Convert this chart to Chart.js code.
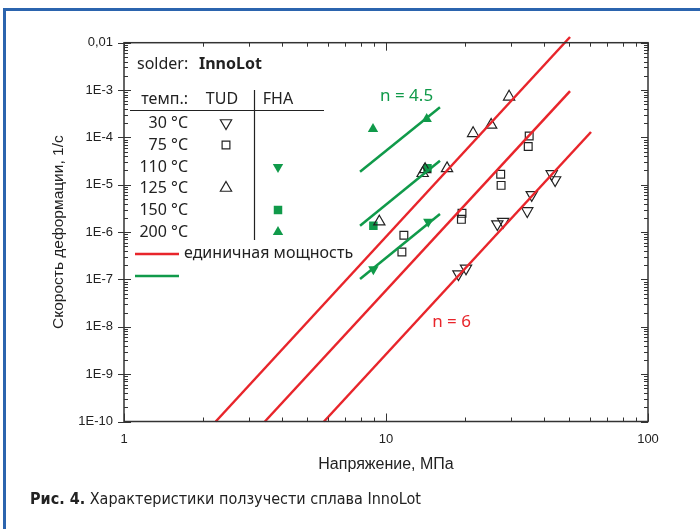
<!DOCTYPE html>
<html lang="ru">
<head>
<meta charset="UTF-8">
<title>Характеристики ползучести сплава InnoLot</title>
<script src="https://cdn.jsdelivr.net/npm/chart.js@4"></script>
<style>
  html, body { margin: 0; padding: 0; background: #fff; }
  #wrap { position: relative; width: 700px; height: 529px; overflow: hidden; }
  #frame { position: absolute; left: 3px; top: 8px; right: -10px; bottom: -10px;
           border-top: 3px solid #2b64ae; border-left: 3px solid #2b64ae; }
  canvas { position: absolute; left: 0; top: 0; }
  #caption { position: absolute; left: 30px; top: 489px; color: #222;
             font: 16px "Liberation Sans Narrow", "DejaVu Sans Condensed", sans-serif; }
  #caption b { font-weight: bold; }
</style>
</head>
<body>
<div id="wrap">
  <div id="frame"></div>
  <canvas id="chart" width="700" height="529"></canvas>
  <div id="caption"><b>Рис. 4.</b> Характеристики ползучести сплава InnoLot</div>
</div>
<script>
// axis ticks
const xTicks = [1, 10, 100];
const xTickLabels = ['1', '10', '100'];
const yTicks = [1e-10, 1e-9, 1e-8, 1e-7, 1e-6, 1e-5, 1e-4, 1e-3, 1e-2];
const yTickLabels = ['1E-10', '1E-9', '1E-8', '1E-7', '1E-6', '1E-5', '1E-4', '1E-3', '0,01'];

// TUD measurements (open markers)
const tud30X  = [42.9, 44.2, 36.0, 34.6, 28.0, 26.6, 20.2, 18.9];
const tud30Y  = [1.69e-5, 1.26e-5, 6.1e-6, 2.8e-6, 1.66e-6, 1.48e-6, 1.72e-7, 1.30e-7];
const tud75X  = [35.2, 34.9, 27.4, 27.5, 19.5, 19.4, 11.7, 11.5];
const tud75Y  = [1.07e-4, 6.4e-5, 1.66e-5, 9.7e-6, 2.49e-6, 1.86e-6, 8.6e-7, 3.8e-7];
const tud125X = [29.5, 25.2, 21.5, 17.1, 14.1, 13.8, 9.43];
const tud125Y = [7.2e-4, 1.83e-4, 1.22e-4, 2.22e-5, 2.12e-5, 1.75e-5, 1.66e-6];

// FHA measurements (filled green markers)
const fha110X = [8.95, 14.5];
const fha110Y = [1.64e-7, 1.66e-6];
const fha150X = [8.95, 14.4];
const fha150Y = [1.36e-6, 2.22e-5];
const fha200X = [8.92, 14.3];
const fha200Y = [1.50e-4, 2.45e-4];

// fit lines, n = 6 (red) and n = 4.5 (green)
const fit6X  = [[2.24, 50.4], [3.45, 50.4], [5.80, 60.6]];
const fit6Y  = [[1e-10, 1.32e-2], [1e-10, 9.5e-4], [1e-10, 1.3e-4]];
const fit45X = [[7.96, 16.07], [7.96, 16.07], [7.96, 16.07]];
const fit45Y = [[1.89e-5, 4.32e-4], [1.36e-6, 3.22e-5], [1.02e-7, 2.41e-6]];

// legend table
const legendTemps = ['30 °C', '75 °C', '110 °C', '125 °C', '150 °C', '200 °C'];

const RED = '#e8252b';
const GREEN = '#109a4a';
const INK = '#222';
const AXIS = '#333';

function pts(xs, ys) {
  return xs.map((x, i) => ({ x: x, y: ys[i] }));
}

const datasets = [];
fit6X.forEach((xs, i) => datasets.push({
  type: 'line', data: pts(xs, fit6Y[i]), borderColor: RED, borderWidth: 2.5,
  pointRadius: 0, fill: false, clip: false
}));
fit45X.forEach((xs, i) => datasets.push({
  type: 'line', data: pts(xs, fit45Y[i]), borderColor: GREEN, borderWidth: 2.5,
  pointRadius: 0, fill: false
}));
datasets.push(
  { data: pts(tud30X, tud30Y), pointStyle: 'triangle', rotation: 180, pointRadius: 6.5,
    borderColor: INK, backgroundColor: 'rgba(0,0,0,0)', borderWidth: 1.2 },
  { data: pts(tud75X, tud75Y), pointStyle: 'rect', pointRadius: 5.5,
    borderColor: INK, backgroundColor: 'rgba(0,0,0,0)', borderWidth: 1.2 },
  { data: pts(tud125X, tud125Y), pointStyle: 'triangle', pointRadius: 6.5,
    borderColor: INK, backgroundColor: 'rgba(0,0,0,0)', borderWidth: 1.2 },
  { data: pts(fha110X, fha110Y), pointStyle: 'triangle', rotation: 180, pointRadius: 6,
    borderColor: GREEN, backgroundColor: GREEN, borderWidth: 0 },
  { data: pts(fha150X, fha150Y), pointStyle: 'rect', pointRadius: 6,
    borderColor: GREEN, backgroundColor: GREEN, borderWidth: 0 },
  { data: pts(fha200X, fha200Y), pointStyle: 'triangle', pointRadius: 6,
    borderColor: GREEN, backgroundColor: GREEN, borderWidth: 0 }
);

const TXT = '"Noto Sans", "Open Sans", sans-serif';

// frame, inner ticks, legend table and labels
const decor = {
  id: 'decor',
  afterDatasetsDraw(chart) {
    const { ctx, chartArea: a, scales: { x, y } } = chart;
    const dp = Chart.helpers.drawPoint;
    ctx.save();
    ctx.strokeStyle = AXIS;
    ctx.lineWidth = 1.5;
    ctx.strokeRect(a.left, a.top, a.right - a.left, a.bottom - a.top);

    ctx.lineWidth = 1;
    ctx.beginPath();
    for (let d = 1; d <= 100; d *= 10) {
      for (let m = 1; m <= 9; m++) {
        const v = m * d;
        if (v > 100) break;
        const px = Math.round(x.getPixelForValue(v)) + 0.5;
        const len = m === 1 ? 8 : 4;
        ctx.moveTo(px, a.bottom); ctx.lineTo(px, a.bottom - len);
        ctx.moveTo(px, a.top); ctx.lineTo(px, a.top + len);
      }
    }
    for (let e = -10; e <= -2; e++) {
      for (let m = 1; m <= 9; m++) {
        const v = m * Math.pow(10, e);
        if (v > 0.0100001) break;
        const py = Math.round(y.getPixelForValue(v)) + 0.5;
        const len = m === 1 ? 7 : 4;
        ctx.moveTo(a.left - (m === 1 ? 6 : 0), py); ctx.lineTo(a.left + len, py);
        ctx.moveTo(a.right, py); ctx.lineTo(a.right - len, py);
      }
    }
    ctx.stroke();

    // legend box inside the plot
    ctx.fillStyle = INK;
    ctx.textBaseline = 'middle';
    ctx.textAlign = 'left';
    ctx.font = '16px ' + TXT;
    ctx.fillText('solder:', 137, 64);
    ctx.font = 'bold 16px ' + TXT;
    ctx.fillText('InnoLot', 199, 64);
    ctx.font = '16px ' + TXT;
    ctx.textAlign = 'right';
    ctx.fillText('темп.:', 188, 99);
    ctx.textAlign = 'center';
    ctx.fillText('TUD', 222, 99);
    ctx.fillText('FHA', 278, 99);

    ctx.strokeStyle = INK;
    ctx.lineWidth = 1.2;
    ctx.beginPath();
    ctx.moveTo(130, 110.5); ctx.lineTo(324, 110.5);
    ctx.moveTo(254.5, 90); ctx.lineTo(254.5, 240);
    ctx.stroke();

    const rowY = [123, 145, 167, 188, 210, 232];
    ctx.textAlign = 'right';
    legendTemps.forEach((t, i) => ctx.fillText(t, 188, rowY[i]));

    ctx.fillStyle = 'rgba(0,0,0,0)';
    ctx.strokeStyle = INK;
    ctx.lineWidth = 1.2;
    dp(ctx, { pointStyle: 'triangle', rotation: 180, radius: 6.5, borderWidth: 1.2 }, 226, rowY[0]);
    dp(ctx, { pointStyle: 'rect', rotation: 0, radius: 5.5, borderWidth: 1.2 }, 226, rowY[1]);
    dp(ctx, { pointStyle: 'triangle', rotation: 0, radius: 6.5, borderWidth: 1.2 }, 226, rowY[3]);
    ctx.fillStyle = GREEN;
    dp(ctx, { pointStyle: 'triangle', rotation: 180, radius: 6, borderWidth: 0 }, 278, rowY[2]);
    dp(ctx, { pointStyle: 'rect', rotation: 0, radius: 6, borderWidth: 0 }, 278, rowY[4]);
    dp(ctx, { pointStyle: 'triangle', rotation: 0, radius: 6, borderWidth: 0 }, 278, rowY[5]);

    ctx.lineWidth = 2.5;
    ctx.strokeStyle = RED;
    ctx.beginPath(); ctx.moveTo(135, 254); ctx.lineTo(179, 254); ctx.stroke();
    ctx.strokeStyle = GREEN;
    ctx.beginPath(); ctx.moveTo(135, 276); ctx.lineTo(179, 276); ctx.stroke();
    ctx.fillStyle = INK;
    ctx.textAlign = 'left';
    ctx.fillText('единичная мощность', 184, 253);

    // slope labels
    ctx.font = '17px ' + TXT;
    ctx.fillStyle = GREEN;
    ctx.fillText('n = 4.5', x.getPixelForValue(9.49), y.getPixelForValue(7.5e-4));
    ctx.fillStyle = RED;
    ctx.fillText('n = 6', x.getPixelForValue(15.0), y.getPixelForValue(1.26e-8));
    ctx.restore();
  }
};

new Chart(document.getElementById('chart'), {
  type: 'scatter',
  data: { datasets: datasets },
  options: {
    responsive: false,
    animation: false,
    layout: { padding: { left: 45, top: 42.7, right: 52, bottom: 51 } },
    plugins: { legend: { display: false }, tooltip: { enabled: false } },
    scales: {
      x: {
        type: 'logarithmic', min: 1, max: 100,
        grid: { display: false, drawTicks: false }, border: { display: false },
        afterBuildTicks: s => { s.ticks = xTicks.map(v => ({ value: v })); },
        afterFit: s => { s.height = 56.5; },
        ticks: {
          autoSkip: false, maxRotation: 0, padding: 10, color: INK,
          font: { family: '"Liberation Sans", Arial, sans-serif', size: 13 },
          callback: (v, i) => xTickLabels[i]
        },
        title: {
          display: true, text: 'Напряжение, МПа', color: INK,
          font: { family: '"Liberation Sans", Arial, sans-serif', size: 16 },
          padding: { top: 0, bottom: 4 }
        }
      },
      y: {
        type: 'logarithmic', min: 1e-10, max: 1e-2,
        grid: { display: false, drawTicks: false }, border: { display: false },
        afterBuildTicks: s => { s.ticks = yTicks.map(v => ({ value: v })); },
        afterFit: s => { s.width = 79; },
        ticks: {
          autoSkip: false, padding: 11, color: INK,
          font: { family: '"Liberation Sans", Arial, sans-serif', size: 13 },
          callback: (v, i) => yTickLabels[i]
        },
        title: {
          display: true, text: 'Скорость деформации, 1/с', color: INK,
          font: { family: '"Liberation Sans", Arial, sans-serif', size: 15.5 },
          padding: { top: 4, bottom: 0 }
        }
      }
    }
  },
  plugins: [decor]
});
</script>
</body>
</html>
